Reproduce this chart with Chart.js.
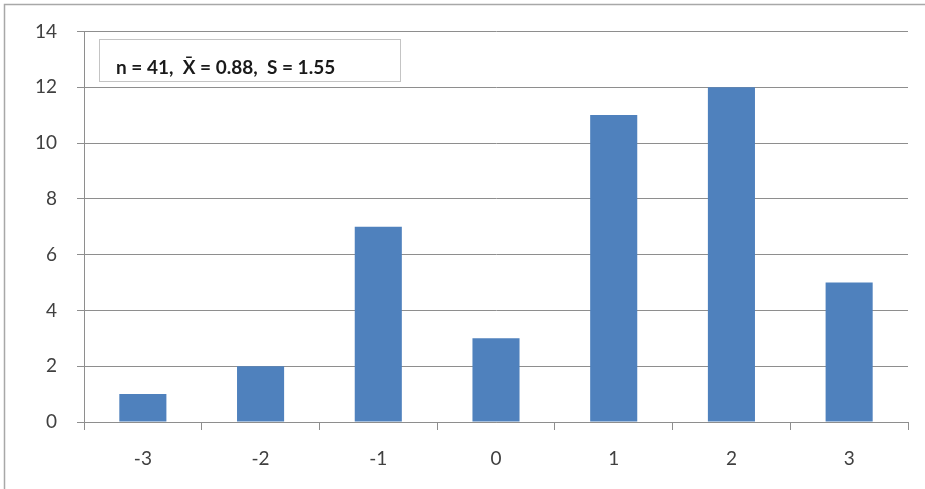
<!DOCTYPE html>
<html>
<head>
<meta charset="utf-8">
<script src="https://cdn.jsdelivr.net/npm/chart.js@4/dist/chart.umd.min.js"></script>
<style>
  html, body { margin: 0; padding: 0; background: #fff; }
  #wrap { width: 925px; height: 489px; }
</style>
</head>
<body>
<div id="wrap"><canvas id="histChart"></canvas></div>
<script>
// Score distribution: frequency per category
const categories = ['-3', '-2', '-1', '0', '1', '2', '3'];
const scoreValues = [-3, -2, -1, 0, 1, 2, 3];
const counts = [1, 2, 7, 3, 11, 12, 5];
const yTicks = [0, 2, 4, 6, 8, 10, 12, 14];

// summary stats for the label box
const n = counts.reduce((a, b) => a + b, 0);
const mean = scoreValues.reduce((s, v, i) => s + v * counts[i], 0) / n;
const ss = scoreValues.reduce((s, v, i) => s + counts[i] * (v - mean) * (v - mean), 0);
const sd = Math.sqrt(ss / (n - 1));
const statsText = 'n = ' + n + ',  X\u0304 = ' + mean.toFixed(2) + ',  S = ' + sd.toFixed(2);

const gridColor = '#8e8e8e';
const fontFamily = 'Lato, "Open Sans", sans-serif';

// outer frame and stats box
const decorations = {
  id: 'decorations',
  afterDraw(chart) {
    const ctx = chart.ctx;
    ctx.save();
    ctx.strokeStyle = '#a8a8a8';
    ctx.lineWidth = 1.5;
    ctx.beginPath();
    ctx.moveTo(4.5, chart.height);
    ctx.lineTo(4.5, 4.5);
    ctx.lineTo(chart.width, 4.5);
    ctx.stroke();

    ctx.fillStyle = '#fff';
    ctx.fillRect(99.5, 39.5, 301, 42);
    ctx.strokeStyle = '#c4c4c4';
    ctx.lineWidth = 1;
    ctx.strokeRect(99.5, 39.5, 301, 42);

    ctx.fillStyle = '#1a1a1a';
    ctx.font = 'bold 19px ' + fontFamily;
    ctx.textBaseline = 'middle';
    ctx.fillText(statsText, 116, 68);
    ctx.restore();
  }
};

const config = {
  type: 'bar',
  data: {
    labels: categories,
    datasets: [{
      label: 'Frequency',
      data: counts,
      backgroundColor: '#4f81bd',
      borderWidth: 0,
      barPercentage: 0.4,
      categoryPercentage: 1.0
    }]
  },
  options: {
    responsive: true,
    maintainAspectRatio: false,
    animation: false,
    layout: { padding: { top: 29, right: 17, bottom: 0, left: 0 } },
    plugins: {
      legend: { display: false },
      tooltip: { enabled: false }
    },
    scales: {
      x: {
        grid: {
          display: true,
          drawOnChartArea: false,
          offset: true,
          tickLength: 8,
          color: gridColor
        },
        border: { color: gridColor, width: 1 },
        ticks: { color: '#404040', padding: 17, font: { family: fontFamily, size: 19 } },
        afterFit(scale) { scale.height = 67; }
      },
      y: {
        min: 0,
        max: 14,
        afterBuildTicks(scale) { scale.ticks = yTicks.map(v => ({ value: v })); },
        grid: { color: gridColor, tickLength: 7 },
        border: { color: gridColor, width: 1 },
        ticks: { color: '#404040', padding: 20, font: { family: fontFamily, size: 19 } },
        afterFit(scale) { scale.width = 84; }
      }
    }
  },
  plugins: [decorations]
};

window.onload = function() {
  const ctx = document.getElementById('histChart').getContext('2d');
  window.histChart = new Chart(ctx, config);
};
</script>
</body>
</html>
